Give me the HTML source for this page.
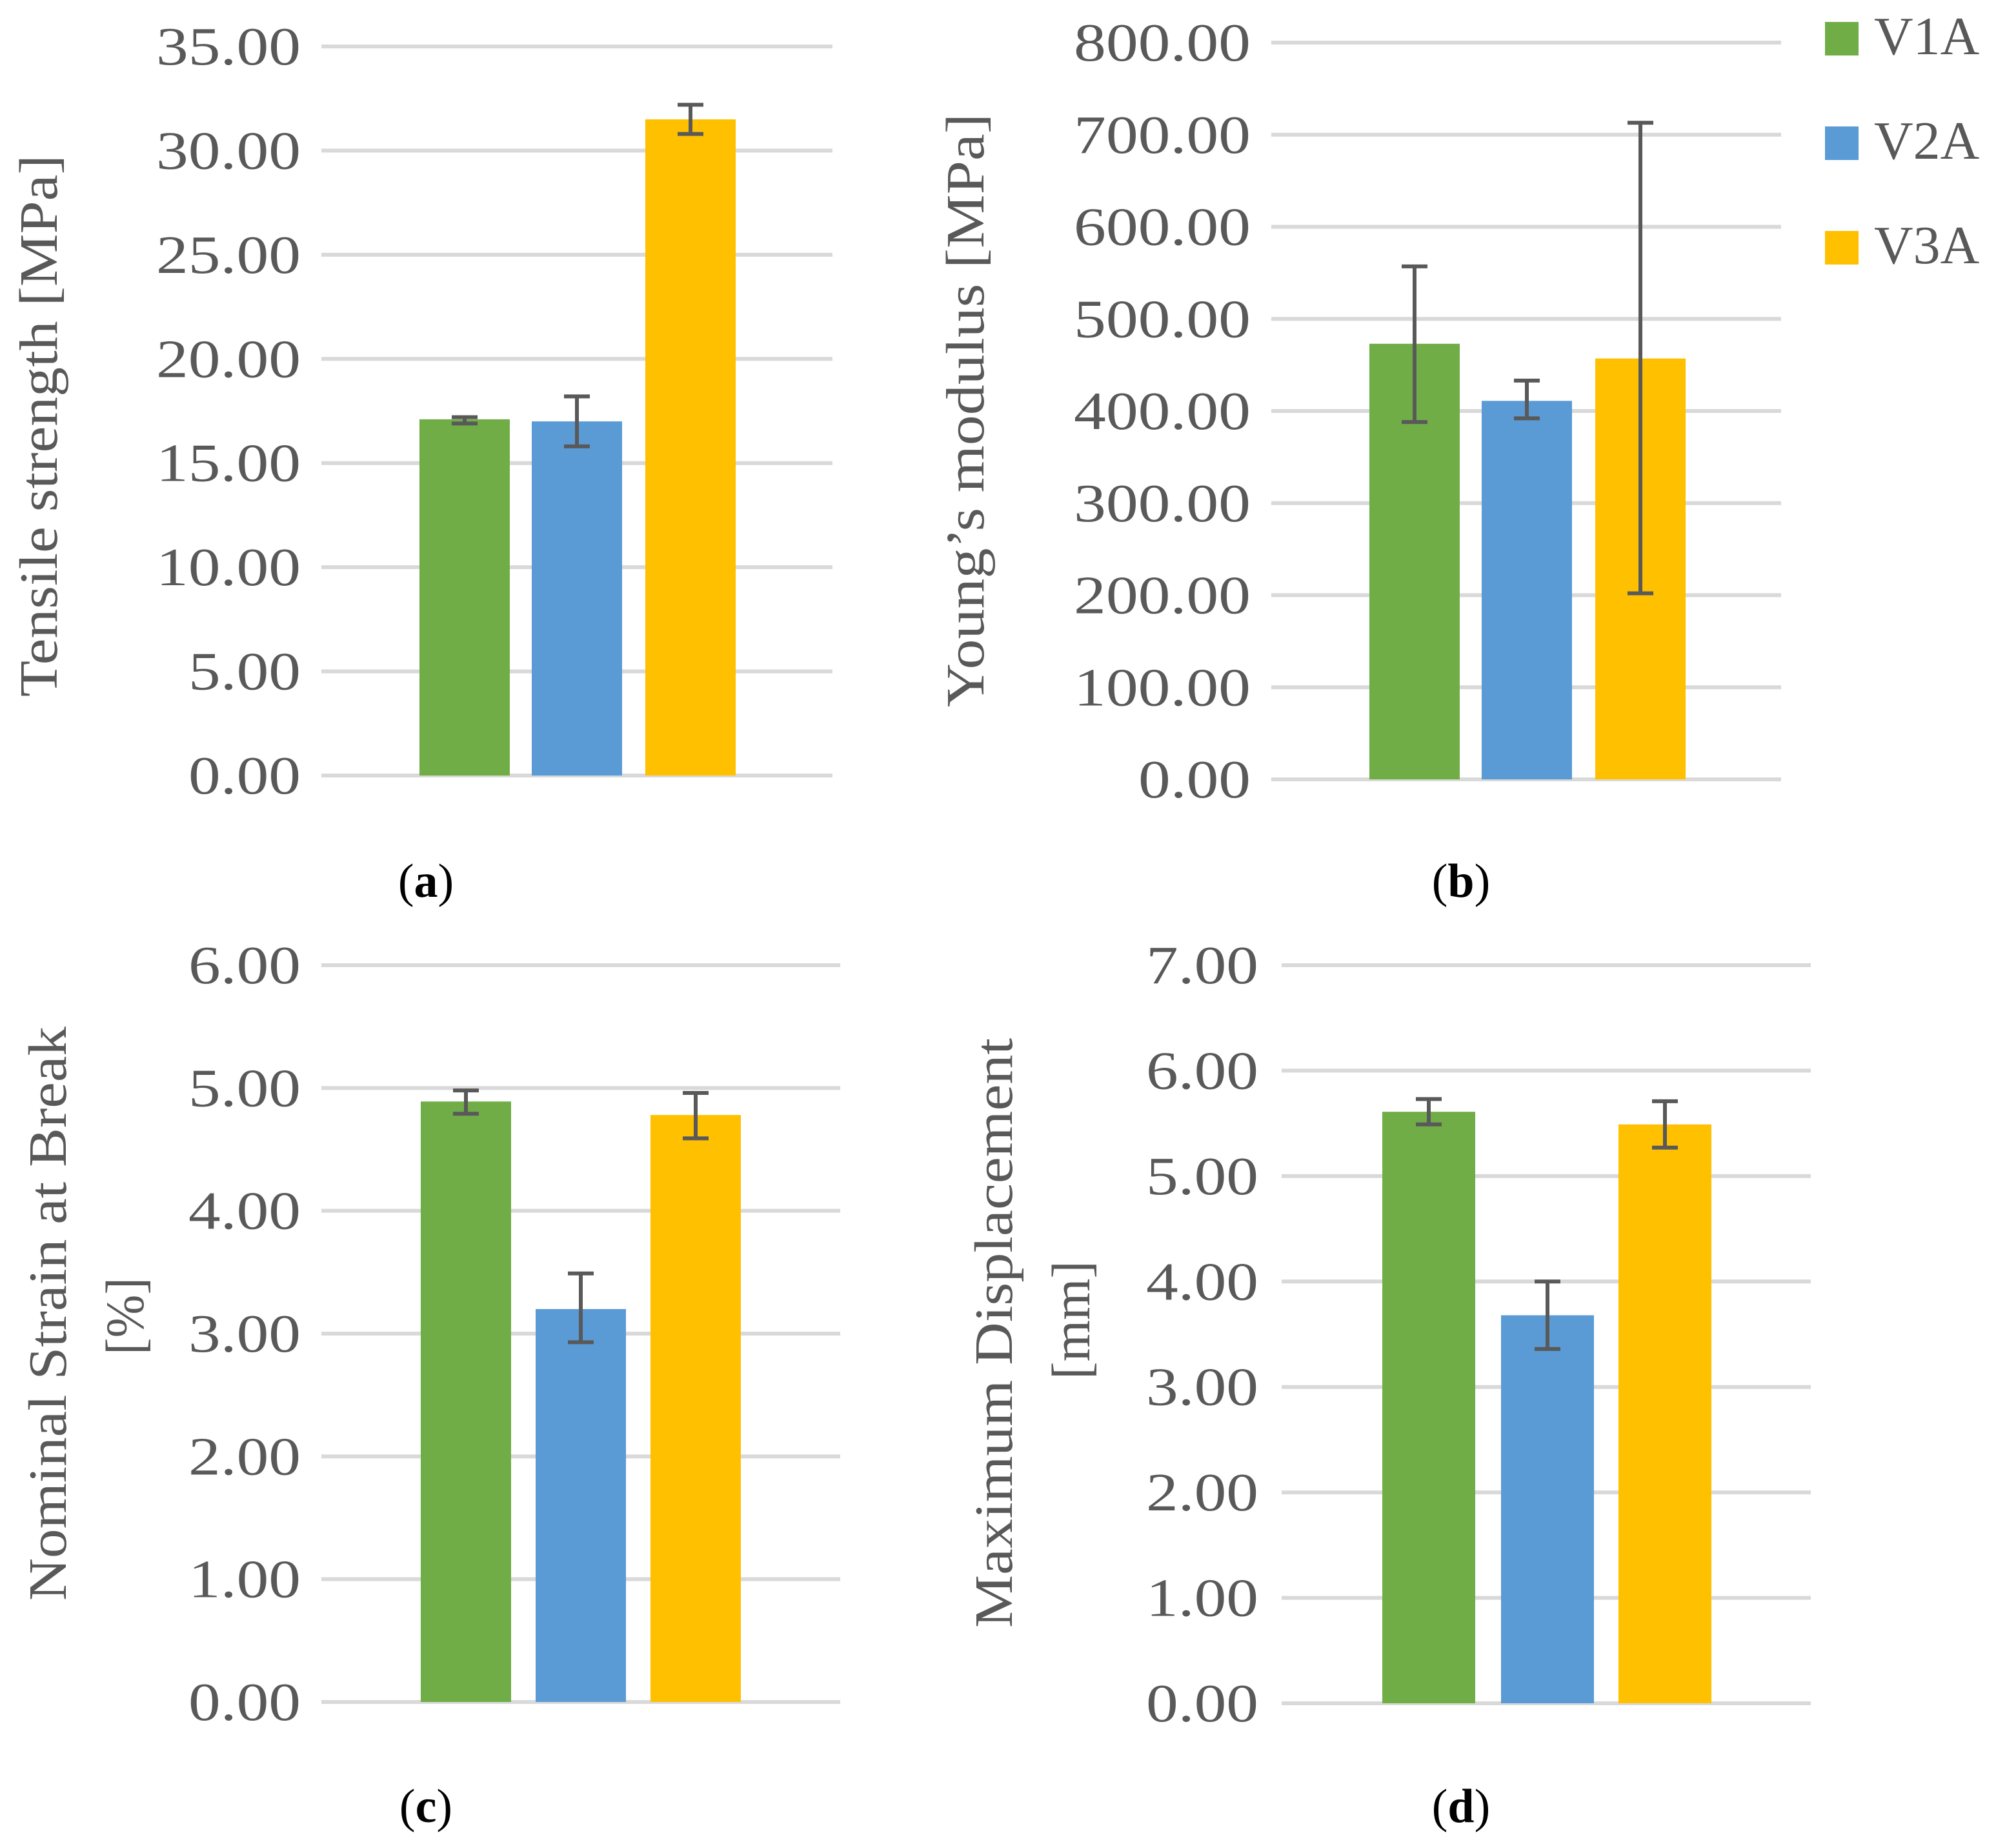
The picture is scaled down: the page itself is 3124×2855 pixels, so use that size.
<!DOCTYPE html>
<html><head><meta charset="utf-8"><style>
html,body{margin:0;padding:0;background:#fff;}
svg{display:block;}
text{font-family:"Liberation Serif",serif;fill:#595959;}
</style></head><body>
<svg id="fig" width="3124" height="2855" viewBox="0 0 1562 1427.5" xmlns="http://www.w3.org/2000/svg">
<g id="legend">
  <rect x="1414" y="17" width="26" height="26" fill="#70AD47"/>
  <text x="1452" y="42" font-size="42">V1A</text>
  <rect x="1414" y="98" width="26" height="26" fill="#5B9BD5"/>
  <text x="1452" y="123" font-size="42">V2A</text>
  <rect x="1414" y="179" width="26" height="26" fill="#FFC000"/>
  <text x="1452" y="204" font-size="42">V3A</text>
</g>
</svg>
<script>
const series = ["V1A","V2A","V3A"];
const colors = ["#70AD47","#5B9BD5","#FFC000"];
const tensileValues = [17.1, 17.0, 31.5];
const tensileLow = [16.9, 15.8, 30.8];
const tensileHigh = [17.2, 18.2, 32.2];
const youngValues = [473, 411, 457];
const youngLow = [388, 392, 202];
const youngHigh = [557, 433, 713];
const strainValues = [4.89, 3.20, 4.78];
const strainLow = [4.79, 2.93, 4.59];
const strainHigh = [4.98, 3.49, 4.96];
const dispValues = [5.61, 3.68, 5.49];
const dispLow = [5.49, 3.36, 5.27];
const dispHigh = [5.73, 4.00, 5.71];
const tensileTicks = [0,5,10,15,20,25,30,35];
const youngTicks = [0,100,200,300,400,500,600,700,800];
const strainTicks = [0,1,2,3,4,5,6];
const dispTicks = [0,1,2,3,4,5,6,7];

const NS = "http://www.w3.org/2000/svg";
const svg = document.getElementById('fig');
function mk(tag, attrs, parent){
  const e = document.createElementNS(NS, tag);
  for (const k in attrs) e.setAttribute(k, attrs[k]);
  parent.appendChild(e);
  return e;
}
function tickLen(s){ let n=0; for(const c of s){ n += (c==='.')?12:25; } return n; }

function panel(cfg){
  const g = mk('g', {}, svg);
  
  
  const max = cfg.ticks[cfg.ticks.length-1];
  const y = v => cfg.y0 - (v/max)*(cfg.y0-cfg.yTop);
  cfg.ticks.forEach(t => {
    const ln = mk('line', {x1:cfg.gx0, x2:cfg.gx1, y1:y(t), y2:y(t), stroke:'#D9D9D9', 'stroke-width':3}, g);
    
    
    const s = t.toFixed(2);
    const tx = mk('text', {x:cfg.lx, y:y(t)+14, 'font-size':42, 'text-anchor':'end', textLength:tickLen(s), lengthAdjust:'spacingAndGlyphs'}, g);
    tx.textContent = s;
    
    
  });
  cfg.values.forEach((v,i) => {
    const bx = cfg.bx[i];
    const r = mk('rect', {x:bx, y:y(v), width:cfg.bw, height:cfg.y0-y(v), fill:colors[i]}, g);
    
    
    const cx = bx + cfg.bw/2;
    const eg = mk('g', {stroke:'#595959', 'stroke-width':3, fill:'none'}, g);
    
    
    mk('line', {x1:cx, x2:cx, y1:y(cfg.high[i]), y2:y(cfg.low[i])}, eg);
    mk('line', {x1:cx-10, x2:cx+10, y1:y(cfg.high[i]), y2:y(cfg.high[i])}, eg);
    mk('line', {x1:cx-10, x2:cx+10, y1:y(cfg.low[i]), y2:y(cfg.low[i])}, eg);
  });
  cfg.titles.forEach(tt => {
    const t = mk('text', {x:0, y:0, 'font-size':42, 'text-anchor':'middle', transform:`translate(${tt.x},${tt.y}) rotate(-90)`, textLength:tt.len, lengthAdjust:'spacingAndGlyphs'}, g);
    t.textContent = tt.text;
    
    
  });
  const cap = mk('text', {x:cfg.capX, y:cfg.capY, 'font-size':37, 'text-anchor':'middle'}, g);
  
  
  cap.setAttribute('style', 'fill:#000');
  cap.innerHTML = '(<tspan font-weight="bold">' + cfg.cap + '</tspan>)';
}

panel({name:'chart-tensile-strength', ticks:tensileTicks, values:tensileValues, low:tensileLow, high:tensileHigh,
  y0:601, yTop:36, gx0:249, gx1:645, lx:233, bx:[325,412,500], bw:70,
  titles:[{text:'Tensile strength [MPa]', x:44, y:330, len:420}], cap:'a', capX:330, capY:695});
panel({name:'chart-youngs-modulus', ticks:youngTicks, values:youngValues, low:youngLow, high:youngHigh,
  y0:604, yTop:33, gx0:985, gx1:1380, lx:969, bx:[1061,1148,1236], bw:70,
  titles:[{text:'Young\u2019s modulus  [MPa]', x:762, y:318, len:460}], cap:'b', capX:1132, capY:695});
panel({name:'chart-nominal-strain', ticks:strainTicks, values:strainValues, low:strainLow, high:strainHigh,
  y0:1319, yTop:748, gx0:249, gx1:651, lx:233, bx:[326,415,504], bw:70,
  titles:[{text:'Nominal Strain at Break', x:51, y:1018, len:445},{text:'[%]', x:111, y:1020, len:60}], cap:'c', capX:330, capY:1412});
panel({name:'chart-max-displacement', ticks:dispTicks, values:dispValues, low:dispLow, high:dispHigh,
  y0:1320, yTop:748, gx0:993, gx1:1403, lx:975, bx:[1071,1163,1254], bw:72,
  titles:[{text:'Maximum Displacement', x:784, y:1033, len:457},{text:'[mm]', x:844, y:1023, len:92}], cap:'d', capX:1132, capY:1412});
</script>
</body></html>
